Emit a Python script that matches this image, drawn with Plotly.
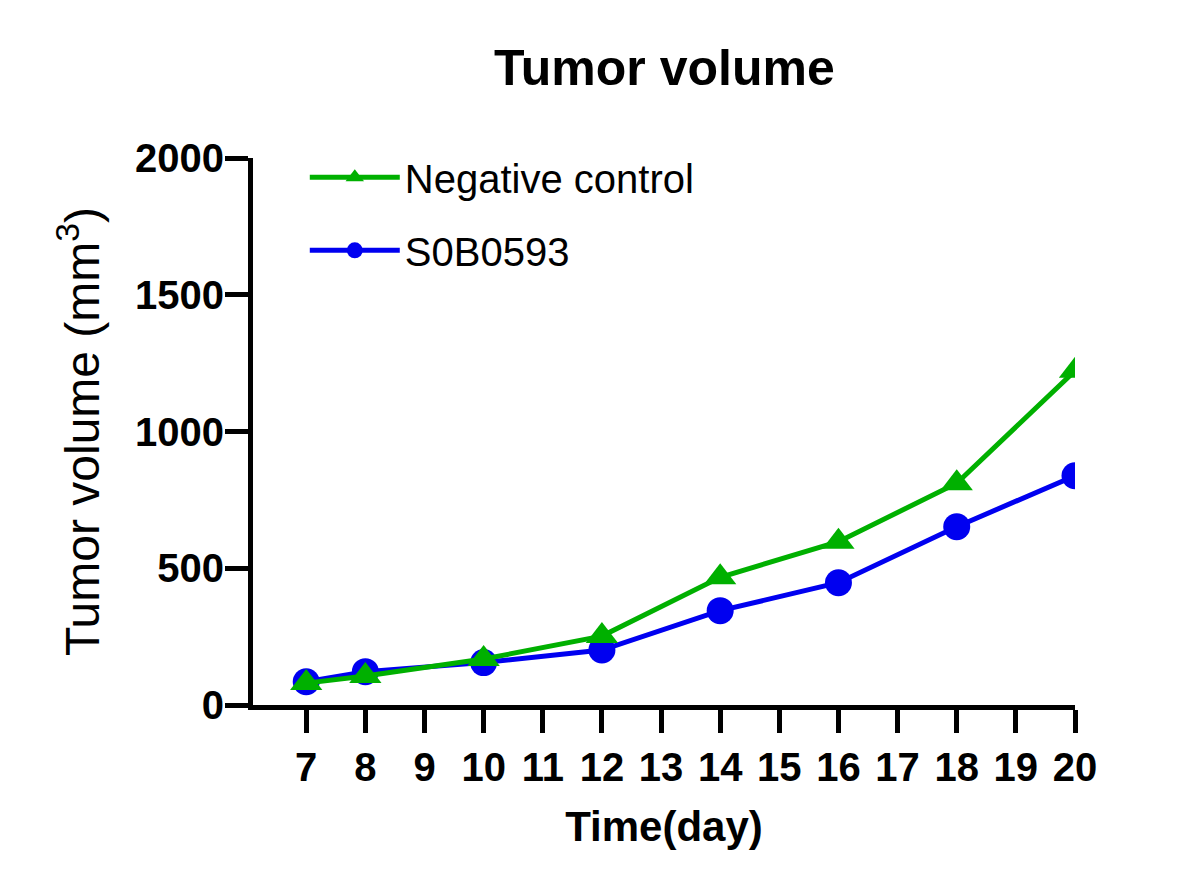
import plotly.graph_objects as go

# Tumor volume over time, two groups
days = [7, 8, 10, 12, 14, 16, 18, 20]
neg_control = [80, 106, 168, 252, 467, 597, 811, 1222]
s0b0593 = [85, 122, 155, 201, 345, 447, 652, 838]

x_ticks = list(range(7, 21))
y_ticks = [0, 500, 1000, 1500, 2000]

FONT = "Liberation Sans, Arial, sans-serif"
GREEN = "#00B000"
BLUE = "#0000F0"

fig = go.Figure()

# blue first so the green triangles sit on top, legend order fixed with legendrank
fig.add_trace(go.Scatter(
    x=days, y=s0b0593, name="S0B0593", mode="lines+markers",
    line=dict(color=BLUE, width=5),
    marker=dict(symbol="circle", size=27, color=BLUE),
    legendrank=2, legendgroup="b",
))
fig.add_trace(go.Scatter(
    x=days, y=neg_control, name="Negative control", mode="lines+markers",
    line=dict(color=GREEN, width=5),
    marker=dict(symbol="triangle-up", size=28, color=GREEN),
    legendrank=1, legendgroup="a",
))

# page body adds ~8px offset, margins compensate for it
fig.update_layout(
    width=1200, height=889,
    paper_bgcolor="white", plot_bgcolor="white",
    margin=dict(l=245, r=133, t=150, b=192),
    font=dict(family=FONT, color="black"),
    title=dict(text="<b>Tumor volume</b>", x=0.547, xanchor="center",
               y=0.933, yanchor="middle", font=dict(size=50)),
    showlegend=True,
    legend=dict(x=0.063, y=1.024, xanchor="left", yanchor="top",
                font=dict(size=40), bgcolor="rgba(0,0,0,0)",
                tracegroupgap=18, itemsizing="trace", itemwidth=90),
)

fig.update_xaxes(
    range=[6.1, 20], tickvals=x_ticks, ticktext=[str(v) for v in x_ticks],
    showgrid=False, zeroline=False, automargin=False,
    showline=True, linecolor="black", linewidth=5,
    ticks="outside", ticklen=23, tickwidth=5, tickcolor="black",
    tickfont=dict(size=40, family=FONT, weight="bold"),
    title=dict(text="<b>Time(day)</b>", font=dict(size=42), standoff=25),
)
fig.update_yaxes(
    range=[0, 2000], tickvals=y_ticks, ticktext=[str(v) for v in y_ticks],
    showgrid=False, zeroline=False, automargin=False,
    showline=True, linecolor="black", linewidth=5,
    ticks="outside", ticklen=23, tickwidth=5, tickcolor="black",
    tickfont=dict(size=40, family=FONT, weight="bold"), ticklabelstandoff=-7,
    title=dict(text="Tumor volume (mm<sup>3</sup>)", font=dict(size=48), standoff=22),
)

fig.write_html("out.html")
